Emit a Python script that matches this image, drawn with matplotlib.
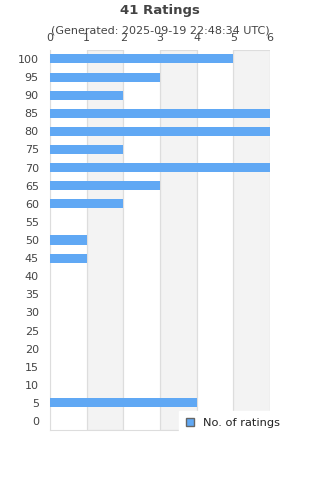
import matplotlib.pyplot as plt
import numpy as np

plt.rcParams['font.family'] = ['DejaVu Sans']

# ratings buckets (top to bottom) and counts
scores = [100, 95, 90, 85, 80, 75, 70, 65, 60, 55, 50, 45, 40, 35, 30, 25, 20, 15, 10, 5, 0]
counts = [5, 3, 2, 6, 6, 2, 6, 3, 2, 0, 1, 1, 0, 0, 0, 0, 0, 0, 0, 4, 0]
xticks = [0, 1, 2, 3, 4, 5, 6]

fig = plt.figure(figsize=(3.2, 4.8), dpi=100)
ax = fig.add_axes([0.156, 0.104, 0.6875, 0.792])

ypos = np.arange(len(scores))
ax.barh(ypos, counts, height=0.5, color='#60a8f4', label='No. of ratings', zorder=3)

# alternating shaded columns
for x0 in [1, 3, 5]:
    ax.axvspan(x0, x0 + 1, facecolor='#f3f3f3', edgecolor='#dddddd', linewidth=0.8, zorder=0)
for x in xticks:
    ax.axvline(x, color='#dddddd', linewidth=0.8, zorder=1)

ax.set_xlim(0, 6)
ax.set_ylim(len(scores) - 0.5, -0.5)
ax.set_yticks(ypos)
ax.set_yticklabels([str(s) for s in scores])
ax.set_xticks(xticks)
ax.xaxis.tick_top()
ax.tick_params(axis='both', length=0, labelsize=8, colors='#444444')
ax.tick_params(axis='y', pad=8)
ax.tick_params(axis='x', pad=5)
for side in ['top', 'right']:
    ax.spines[side].set_visible(False)
for side in ['left', 'bottom']:
    ax.spines[side].set_color('#dddddd')

fig.text(0.5, 0.978, '41 Ratings', ha='center', va='center', fontsize=9.5,
         fontweight='bold', color='#444444')
fig.text(0.5, 0.937, '(Generated: 2025-09-19 22:48:34 UTC)', ha='center', va='center',
         fontsize=8, color='#444444')

leg = ax.legend(loc='center left', bbox_to_anchor=(173 / 320, 1 - 423 / 480),
                bbox_transform=fig.transFigure, fontsize=8.2,
                frameon=True, fancybox=False, framealpha=1, edgecolor='white',
                handlelength=0.7, handleheight=0.7, handletextpad=0.8, borderpad=0.6)
leg.get_patches()[0].set_edgecolor('#666666')
for t in leg.get_texts():
    t.set_color('#222222')

fig.savefig('out.png', dpi=100)
